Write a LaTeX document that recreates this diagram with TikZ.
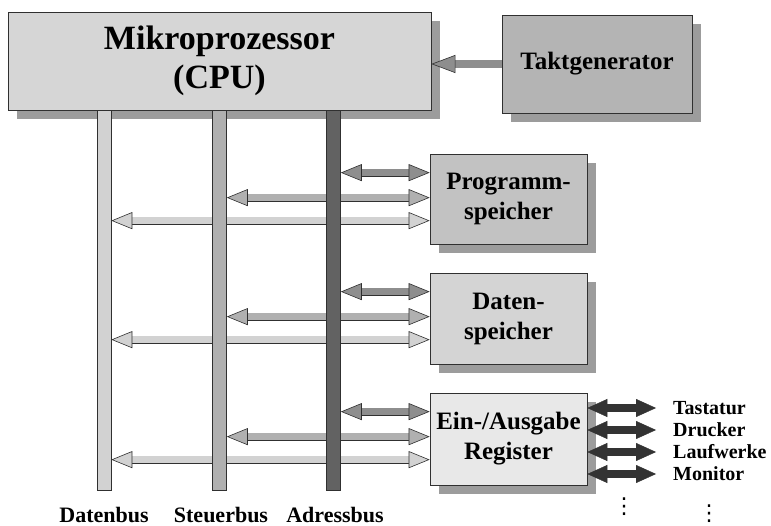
\documentclass[tikz,border=0pt]{standalone}
\usepackage{fontspec}
\setmainfont{Liberation Serif}
\newfontfamily\symbolfont{DejaVu Sans}
\usepackage{xcolor}
\usetikzlibrary{arrows.meta, positioning, shadows}

\definecolor{rand}{HTML}{303030}
\definecolor{cpugrau}{HTML}{D6D6D6}
\definecolor{taktgrau}{HTML}{B4B4B4}
\definecolor{schatten}{HTML}{9C9C9C}
\definecolor{proggrau}{HTML}{C2C2C2}
\definecolor{datgrau}{HTML}{D4D4D4}
\definecolor{eagrau}{HTML}{E8E8E8}
\definecolor{dbus}{HTML}{D2D2D2}
\definecolor{sbus}{HTML}{B0B0B0}
\definecolor{abus}{HTML}{626262}
\definecolor{apfeil}{HTML}{8E8E8E}
\definecolor{iograu}{HTML}{333333}

\pgfdeclarelayer{unten}
\pgfsetlayers{unten,main}

\begin{document}
\begin{tikzpicture}[x=1pt,y=-1pt,
  kasten/.style={draw=rand, line width=0.7pt, fill=#1, inner sep=0pt, align=center,
    font=\bfseries\fontsize{25}{30}\selectfont,
    drop shadow={shadow xshift=9pt, shadow yshift=-9pt, fill=schatten, opacity=1}},
  bus/.style={draw=rand, line width=0.6pt, fill=#1, inner sep=0pt,
    minimum width=14pt, minimum height=380pt},
  buslabel/.style={font=\bfseries\fontsize{22}{26}\selectfont, inner sep=0pt},
  gerät/.style={font=\bfseries\fontsize{20}{24}\selectfont, inner sep=0pt, anchor=west},
  punkte/.style={font=\symbolfont\fontsize{22}{24}\selectfont, inner sep=0pt},
  pfeil/.style={line width=6.5pt, draw=#1,
    {Triangle[length=21pt,width=17pt,line width=0.6pt,color=rand,fill=#1]}-{Triangle[length=21pt,width=17pt,line width=0.6pt,color=rand,fill=#1]},
    preaction={draw=rand, line width=7.9pt, arrows=-, shorten <=19pt, shorten >=19pt}},
  taktpfeil/.style={line width=8.5pt, draw=#1,
    -{Triangle[length=24pt,width=18pt,line width=0.6pt,color=rand,fill=#1]}},
  iopfeil/.style={line width=8pt, draw=#1,
    {Triangle[length=20pt,width=18pt,line width=0.4pt,color=#1,fill=#1]}-{Triangle[length=20pt,width=18pt,line width=0.4pt,color=#1,fill=#1]}}
]
\useasboundingbox (0,0) rectangle (771,526);

% CPU und Takt
\node[kasten=cpugrau, minimum width=423pt, minimum height=98pt,
  font=\bfseries\fontsize{34}{39}\selectfont] (cpu) at (219.5,61) {Mikroprozessor\\(CPU)};
\node[kasten=taktgrau, minimum width=190pt, minimum height=98pt] (takt) at (597,64) {Taktgenerator};

% Speicher und Register
\node[kasten=proggrau, minimum width=157pt, minimum height=90pt] (prog) at (508.5,199) {Programm-\\speicher};
\node[kasten=datgrau, minimum width=157pt, minimum height=91pt] (daten) at (508.5,318.5) {Daten-\\speicher};
\node[kasten=eagrau, minimum width=157pt, minimum height=92pt] (ea) at (508.5,439) {Ein-/Ausgabe\\Register};

% Busse
\node[bus=dbus] (datenbus) at (104,300) {};
\node[bus=sbus] (steuerbus) at (219.5,300) {};
\node[bus=abus] (adressbus) at (333.5,300) {};
\node[buslabel, below=17pt of datenbus] (dlabel) {Datenbus};
\node[buslabel, below=17pt of steuerbus, xshift=1.5pt] (slabel) {Steuerbus};
\node[buslabel, below=17pt of adressbus, xshift=1.5pt] (alabel) {Adressbus};

\foreach \k in {prog,daten,ea} {
  \coordinate (\k-a) at ([yshift=-19pt]\k.north west);
  \coordinate (\k-s) at ([yshift=-44pt]\k.north west);
  \coordinate (\k-d) at ([yshift=-67pt]\k.north west);
}

\begin{pgfonlayer}{unten}
  \foreach \k in {prog,daten,ea} {
    \draw[pfeil=apfeil] (adressbus.east |- \k-a) -- (\k-a);
    \draw[pfeil=sbus] (steuerbus.east |- \k-s) -- (\k-s);
    \draw[pfeil=dbus] (datenbus.east |- \k-d) -- (\k-d);
  }
\end{pgfonlayer}

\draw[taktpfeil=apfeil] (takt.west) -- (cpu.east |- takt.west);

% Geraete
\node[gerät] (tastatur) at (673,408) {Tastatur};
\node[gerät] (drucker) at (673,430) {Drucker};
\node[gerät] (laufwerke) at (673,452) {Laufwerke};
\node[gerät] (monitor) at (673,474) {Monitor};
\foreach \g in {tastatur,drucker,laufwerke,monitor}
  \draw[iopfeil=iograu] (ea.east |- \g) -- ([xshift=-17pt]\g.west);

\node[punkte] (punkte1) at (624,507) {⋮};
\node[punkte] (punkte2) at (709,514) {⋮};
\end{tikzpicture}
\end{document}
